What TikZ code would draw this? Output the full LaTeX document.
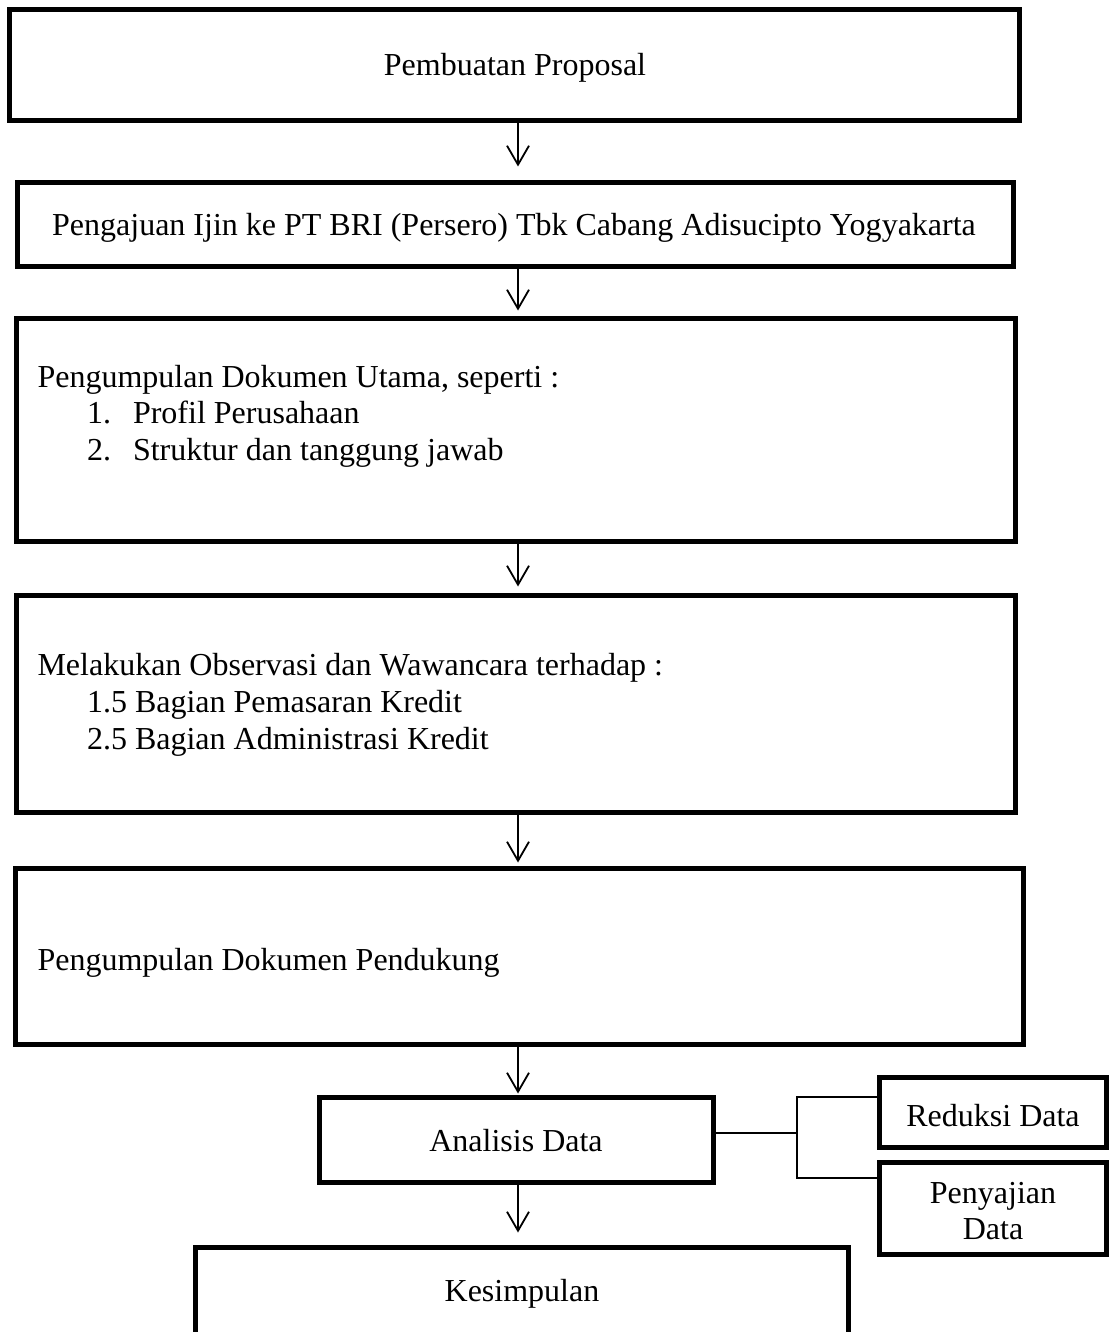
\documentclass[tikz,border=0pt]{standalone}
\usepackage{fontspec}
\setmainfont{Liberation Serif}
\usetikzlibrary{arrows.meta,calc}
\newcommand\flowfont{\fontsize{32}{36.5}\selectfont}
\begin{document}
\begin{tikzpicture}[x=1pt,y=-1pt,
  box/.style={draw, line width=5pt, rectangle, inner sep=0pt, outer sep=0pt,
              anchor=north west, font=\flowfont},
  lbl/.style={inner sep=0pt, outer sep=0pt, font=\flowfont},
  lline/.style={lbl, anchor=base west},
  flow/.style={line width=1.8pt, -{Straight Barb[length=19pt,width=22pt,line width=1.8pt]}},
  link/.style={line width=1.8pt}]
\useasboundingbox (0,0) rectangle (1112,1332);
\clip (0,0) rectangle (1112,1332);

% main process boxes
\node[box, minimum width=1010pt, minimum height=111pt] (b1) at (9.5,9.5) {};
\node[lbl] (t1) at (515,68) {Pembuatan Proposal};

\node[box, minimum width=996pt, minimum height=84pt] (b2) at (17.5,182.5) {};
\node[lbl] (t2) at (514,228) {Pengajuan Ijin ke PT BRI (Persero) Tbk Cabang Adisucipto Yogyakarta};

\node[box, minimum width=999pt, minimum height=223pt] (b3) at (16.5,318.5) {};
\node[lline] (t3a) at (37.5,387) {Pengumpulan Dokumen Utama, seperti :};
\node[lline] (t3b) at (87,423) {1.};
\node[lline] (t3c) at (133,423) {Profil Perusahaan};
\node[lline] (t3d) at (87,460) {2.};
\node[lline] (t3e) at (133,460) {Struktur dan tanggung jawab};

\node[box, minimum width=999pt, minimum height=217pt] (b4) at (16.5,595.5) {};
\node[lline] (t4a) at (37.5,675) {Melakukan Observasi dan Wawancara terhadap :};
\node[lline] (t4b) at (87,712) {1.5 Bagian Pemasaran Kredit};
\node[lline] (t4c) at (87,749) {2.5 Bagian Administrasi Kredit};

\node[box, minimum width=1008pt, minimum height=176pt] (b5) at (15.5,868.5) {};
\node[lline] (t5) at (37.5,970) {Pengumpulan Dokumen Pendukung};

\node[box, minimum width=394pt, minimum height=85pt] (an) at (319.5,1097.5) {};
\node[lbl] (tan) at (516,1141) {Analisis Data};

\node[box, minimum width=653pt, minimum height=160pt] (b7) at (195.5,1247.5) {};
\node[lbl] (t7) at (522,1294) {Kesimpulan};

% side boxes of the analysis step
\node[box, minimum width=227pt, minimum height=70pt] (red) at (879.5,1077.5) {};
\node[lbl] (tred) at (993,1116) {Reduksi Data};
\node[box, minimum width=227pt, minimum height=92pt] (pen) at (879.5,1162.5) {};
\node[lbl, align=center] (tpen) at (993,1211) {Penyajian\\Data};

% vertical flow arrows
\coordinate (ax) at (518,0);
\draw[flow] (b1.south -| ax) -- ($(b2.north -| ax)+(0,-16)$);
\draw[flow] (b2.south -| ax) -- ($(b3.north -| ax)+(0,-8)$);
\draw[flow] (b3.south -| ax) -- ($(b4.north -| ax)+(0,-9)$);
\draw[flow] (b4.south -| ax) -- ($(b5.north -| ax)+(0,-6)$);
\draw[flow] (b5.south -| ax) -- ($(an.north -| ax)+(0,-4)$);
\draw[flow] (an.south -| ax) -- ($(b7.north -| ax)+(0,-15)$);

% bracket to the side boxes
\coordinate (j) at (797,1133);
\coordinate (jt) at (797,1097);
\coordinate (jb) at (797,1178);
\draw[link] (an.east |- j) -- (j);
\draw[link] (jt -| red.west) -- (jt) -- (jb) -- (jb -| pen.west);
\end{tikzpicture}
\end{document}
